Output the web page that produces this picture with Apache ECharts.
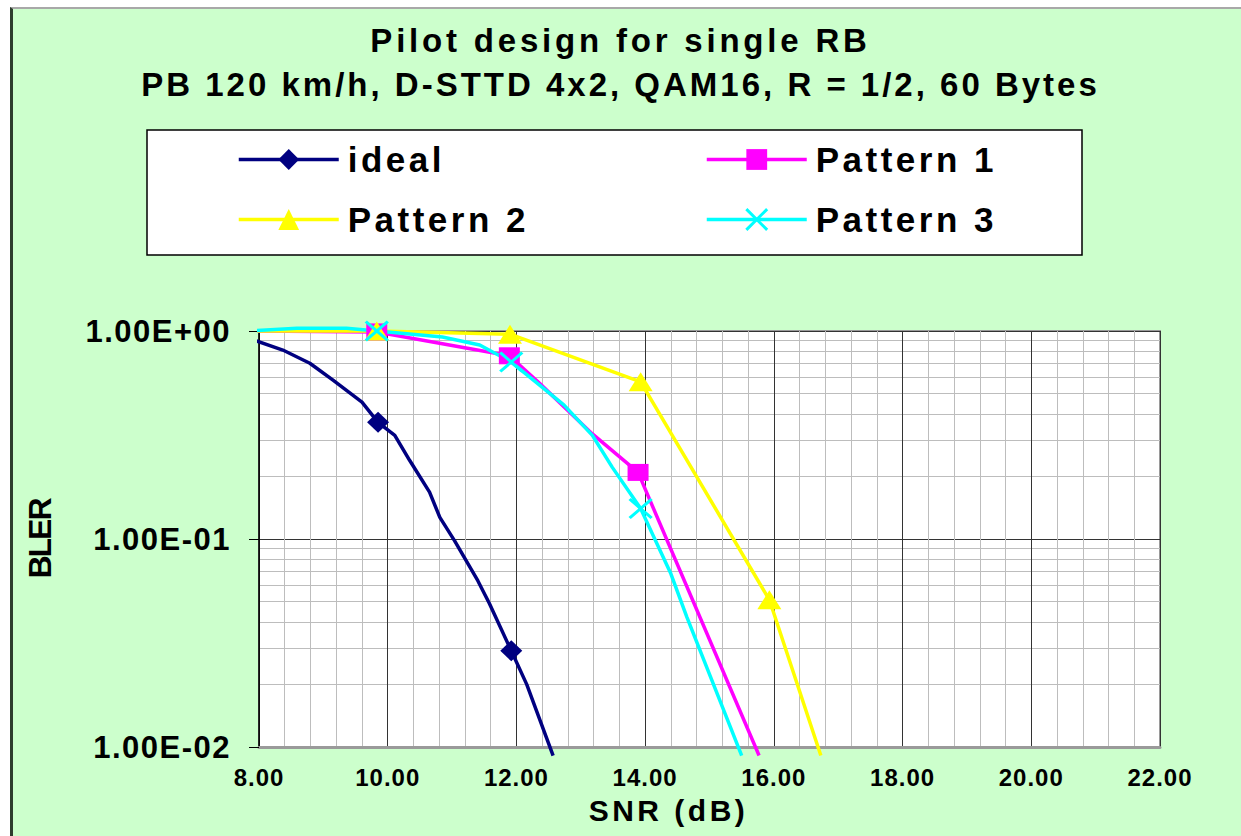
<!DOCTYPE html>
<html>
<head>
<meta charset="utf-8">
<title>Pilot design for single RB</title>
<script src="https://cdn.jsdelivr.net/npm/echarts@6/dist/echarts.min.js"></script>
<style>
  html, body { margin: 0; padding: 0; background: #ffffff; }
  #frame {
    position: absolute; left: 10px; top: 7px; right: 0; bottom: 0;
    background: #CCFFCC;
    border-left: 3px solid #2d3d2d;
    border-top: 2px solid #a8a8a8;
  }
  #chart { position: absolute; left: 0; top: 0; width: 1241px; height: 836px; }
</style>
</head>
<body>
<div id="frame"></div>
<div id="chart"></div>
<script>
// Axis ticks
const xTicks = [8, 10, 12, 14, 16, 18, 20, 22];
const xTickLabels = ['8.00', '10.00', '12.00', '14.00', '16.00', '18.00', '20.00', '22.00'];
const yTicks = [0.01, 0.1, 1];
const yTickLabels = ['1.00E-02', '1.00E-01', '1.00E+00'];

// ideal channel estimation
const idealSnr  = [7.83, 8.37, 8.79, 9.15, 9.60, 9.85, 10.11, 10.34, 10.65, 10.81, 11.04, 11.40, 11.58, 11.92, 12.16, 12.57];
const idealBler = [0.925, 0.81, 0.70, 0.58, 0.455, 0.364, 0.315, 0.239, 0.168, 0.127, 0.098, 0.063, 0.049, 0.029, 0.020, 0.0091];
const idealMarks = [9.85, 11.92];

// Pattern 1
const p1Snr  = [7.83, 9.83, 11.89, 12.36, 13.18, 13.89, 15.77];
const p1Bler = [1.0, 0.99, 0.76, 0.56, 0.32, 0.209, 0.0091];
const p1Marks = [9.83, 11.89, 13.89];

// Pattern 2
const p2Snr  = [7.83, 9.83, 11.90, 13.93, 15.93, 16.73];
const p2Bler = [1.0, 1.0, 0.965, 0.57, 0.051, 0.0091];
const p2Marks = [9.83, 11.90, 13.93, 15.93];

// Pattern 3
const p3Snr  = [7.83, 8.59, 9.36, 9.83, 10.85, 11.43, 11.92, 12.36, 12.74, 13.18, 13.49, 13.93, 14.40, 14.65, 15.50];
const p3Bler = [1.0, 1.03, 1.03, 1.0, 0.936, 0.856, 0.709, 0.549, 0.440, 0.315, 0.221, 0.140, 0.068, 0.042, 0.0091];
const p3Marks = [9.83, 11.92, 13.93];

const seriesNames = ['ideal', 'Pattern 1', 'Pattern 2', 'Pattern 3'];
const FONT = "'Liberation Sans', Arial, sans-serif";

// Build [x, y] points; only the listed SNR points carry a marker.
function points(snr, bler, marks) {
  return snr.map((x, i) => {
    const item = { value: [x, bler[i]] };
    if (!marks.includes(x)) item.symbol = 'none';
    return item;
  });
}

function lineSeries(name, color, snr, bler, marks, symbol, size, extraItem) {
  return {
    name: name,
    type: 'line',
    data: points(snr, bler, marks),
    symbol: symbol,
    symbolSize: size,
    clip: false,
    lineStyle: { color: color, width: 3.5 },
    itemStyle: Object.assign({ color: color }, extraItem || {}),
    emphasis: { disabled: true },
    z: 3
  };
}

const crossPath = 'path://M0,0L22,19M22,0L0,19';

const chart = echarts.init(document.getElementById('chart'), null, { renderer: 'svg', width: 1241, height: 836 });

const legendText = { fontFamily: FONT, fontSize: 35, fontWeight: 'bold', color: '#000', lineHeight: 30, padding: [0, 0, 0, 4] };
const titleText = { fontFamily: FONT, fontSize: 33, fontWeight: 'bold', color: '#000' };

function legendBlock(names, left) {
  return {
    data: names,
    orient: 'vertical', left: left, top: 142, padding: 0,
    itemWidth: 100, itemHeight: 26, itemGap: 25,
    selectedMode: false,
    lineStyle: { width: 3.5 },
    textStyle: legendText
  };
}

chart.setOption({
  backgroundColor: 'transparent',
  animation: false,
  title: [
    { text: 'Pilot design for single RB', left: 'center', top: 24, padding: 0, textStyle: titleText },
    { text: 'PB 120 km/h, D-STTD 4x2, QAM16, R = 1/2, 60 Bytes', left: 'center', top: 68, padding: 0, textStyle: titleText }
  ],
  graphic: [
    {
      type: 'rect', z: 0, silent: true,
      shape: { x: 147, y: 130, width: 935, height: 125 },
      style: { fill: '#ffffff', stroke: '#000000', lineWidth: 1.5 }
    }
  ],
  legend: [
    legendBlock([seriesNames[0], seriesNames[2]], 237),
    legendBlock([seriesNames[1], { name: seriesNames[3], itemStyle: { borderWidth: 3 } }], 705)
  ],
  grid: {
    left: 259, right: 81, top: 331, bottom: 89,
    show: true, backgroundColor: '#ffffff', borderColor: '#9a9a9a', borderWidth: 2
  },
  xAxis: {
    type: 'value',
    min: xTicks[0], max: xTicks[xTicks.length - 1], interval: xTicks[1] - xTicks[0],
    name: 'SNR (dB)', nameLocation: 'middle', nameGap: 48,
    nameTextStyle: { fontFamily: FONT, fontSize: 30, fontWeight: 'bold', color: '#000', padding: [0, 82, 0, 0] },
    axisLine: { show: true, onZero: false, lineStyle: { color: '#9a9a9a', width: 3 } },
    axisTick: { show: false },
    axisLabel: {
      margin: 18, fontFamily: FONT, fontSize: 24, fontWeight: 'bold', color: '#000',
      formatter: v => { const i = xTicks.indexOf(v); return i >= 0 ? xTickLabels[i] : ''; }
    },
    splitLine: { show: true, lineStyle: { color: '#333', width: 1 } },
    minorTick: { show: false, splitNumber: 5 },
    minorSplitLine: { show: true, lineStyle: { color: '#bdbdbd', width: 1 } }
  },
  yAxis: {
    type: 'log', logBase: 10,
    min: yTicks[0], max: yTicks[yTicks.length - 1],
    name: 'BLER', nameLocation: 'middle', nameGap: 203,
    nameTextStyle: { fontFamily: FONT, fontSize: 32, fontWeight: 'bold', color: '#000' },
    axisLine: { show: true, lineStyle: { color: '#000', width: 1.5 } },
    axisTick: { show: true, inside: false, length: 10, lineStyle: { color: '#000', width: 1 } },
    axisLabel: {
      margin: 28, fontFamily: FONT, fontSize: 31, fontWeight: 'bold', color: '#000',
      formatter: v => {
        const i = yTicks.findIndex(t => Math.abs(Math.log10(t) - Math.log10(v)) < 1e-6);
        return i >= 0 ? yTickLabels[i] : '';
      }
    },
    splitLine: { show: true, lineStyle: { color: '#333', width: 1 } },
    minorTick: { show: false, splitNumber: 9 },
    minorSplitLine: { show: true, lineStyle: { color: '#bdbdbd', width: 1 } }
  },
  series: [
    lineSeries(seriesNames[0], '#000080', idealSnr, idealBler, idealMarks, 'diamond', [22, 21]),
    lineSeries(seriesNames[1], '#FF00FF', p1Snr, p1Bler, p1Marks, 'rect', [21, 17]),
    lineSeries(seriesNames[2], '#FFFF00', p2Snr, p2Bler, p2Marks, 'triangle', [24, 19]),
    lineSeries(seriesNames[3], '#00FFFF', p3Snr, p3Bler, p3Marks, crossPath, [22, 19],
      { borderColor: '#00FFFF', borderWidth: 3 })
  ]
});

// Per-text letter spacing of the bold labels.
const spacing = {
  'Pilot design for single RB': 3.8,
  'PB 120 km/h, D-STTD 4x2, QAM16, R = 1/2, 60 Bytes': 3.0,
  'SNR (dB)': 3.5,
  'BLER': -2
};
function applySpacing() {
  document.querySelectorAll('#chart svg text').forEach(t => {
    const s = (t.textContent || '').trim();
    let ls = spacing[s];
    if (ls === undefined) {
      if (xTickLabels.includes(s)) ls = 1;
      else if (yTickLabels.includes(s)) ls = 1.5;
      else if (seriesNames.includes(s)) ls = 3.5;
    }
    if (ls !== undefined) t.setAttribute('letter-spacing', ls + 'px');
  });
}
chart.on('finished', applySpacing);
applySpacing();
setTimeout(applySpacing, 50);
</script>
</body>
</html>
